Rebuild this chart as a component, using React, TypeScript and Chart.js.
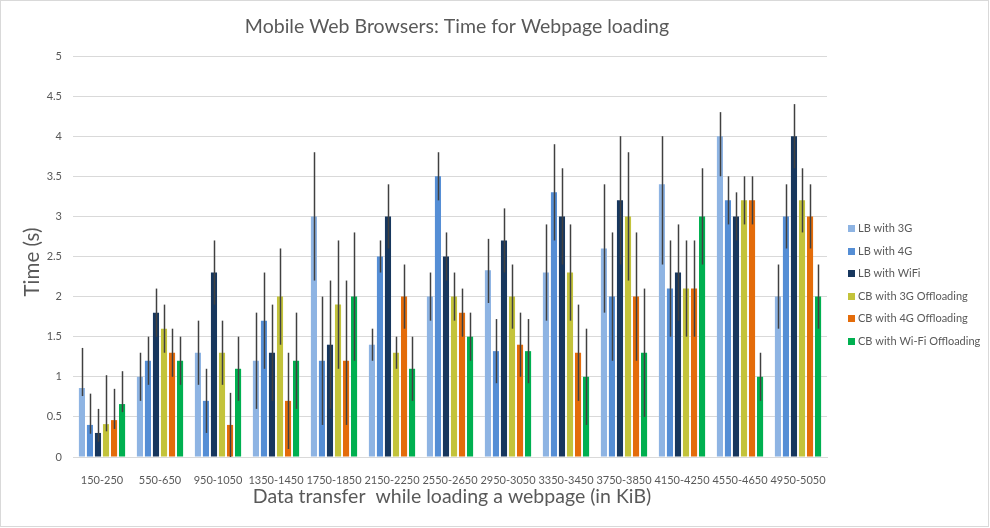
import React, { useEffect, useRef } from "react";
import { Chart, registerables } from "chart.js";

Chart.register(...registerables);

const categories = [
  "150-250", "550-650", "950-1050", "1350-1450", "1750-1850", "2150-2250", "2550-2650",
  "2950-3050", "3350-3450", "3750-3850", "4150-4250", "4550-4650", "4950-5050",
];

const seriesNames = [
  "LB with 3G", "LB with 4G", "LB with WiFi",
  "CB with 3G Offloading", "CB with 4G Offloading", "CB with Wi-Fi Offloading",
];

const seriesColors = ["#8EB4E3", "#558ED5", "#17375E", "#C3C33B", "#E46C0A", "#00B050"];

const lb3g = [0.86, 1.0, 1.3, 1.2, 3.0, 1.4, 2.0, 2.33, 2.3, 2.6, 3.4, 4.0, 2.0];
const lb4g = [0.4, 1.2, 0.7, 1.7, 1.2, 2.5, 3.5, 1.32, 3.3, 2.0, 2.1, 3.2, 3.0];
const lbWifi = [0.3, 1.8, 2.3, 1.3, 1.4, 3.0, 2.5, 2.7, 3.0, 3.2, 2.3, 3.0, 4.0];
const cb3g = [0.41, 1.6, 1.3, 2.0, 1.9, 1.3, 2.0, 2.0, 2.3, 3.0, 2.1, 3.2, 3.2];
const cb4g = [0.46, 1.3, 0.4, 0.7, 1.2, 2.0, 1.8, 1.4, 1.3, 2.0, 2.1, 3.2, 3.0];
const cbWifi = [0.66, 1.2, 1.1, 1.2, 2.0, 1.1, 1.5, 1.32, 1.0, 1.3, 3.0, 1.0, 2.0];

// error bar ends (lower, upper)
const lb3gLow = [0.76, 0.7, 0.9, 0.6, 2.2, 1.2, 1.7, 1.92, 1.7, 1.8, 2.4, 3.5, 1.6];
const lb3gHigh = [1.36, 1.3, 1.7, 1.8, 3.8, 1.6, 2.3, 2.72, 2.9, 3.4, 4.0, 4.3, 2.4];
const lb4gLow = [0.29, 0.9, 0.3, 1.1, 0.4, 2.3, 3.2, 0.92, 2.7, 1.2, 1.5, 2.9, 2.6];
const lb4gHigh = [0.79, 1.5, 1.1, 2.3, 2.0, 2.7, 3.8, 1.72, 3.9, 2.8, 2.7, 3.5, 3.4];
const lbWifiLow = [0.19, 1.5, 1.9, 0.7, 0.6, 2.6, 2.2, 2.3, 2.4, 2.4, 1.7, 2.7, 3.6];
const lbWifiHigh = [0.6, 2.1, 2.7, 1.9, 2.2, 3.4, 2.8, 3.1, 3.6, 4.0, 2.9, 3.3, 4.4];
const cb3gLow = [0.32, 1.3, 0.9, 1.4, 1.1, 1.1, 1.7, 1.6, 1.7, 2.2, 1.5, 2.9, 2.8];
const cb3gHigh = [1.02, 1.9, 1.7, 2.6, 2.7, 1.5, 2.3, 2.4, 2.9, 3.8, 2.7, 3.5, 3.6];
const cb4gLow = [0.35, 1.0, 0.0, 0.1, 0.4, 1.6, 1.5, 1.0, 0.7, 1.2, 1.5, 2.9, 2.6];
const cb4gHigh = [0.85, 1.6, 0.8, 1.3, 2.2, 2.4, 2.1, 1.8, 1.9, 2.8, 2.7, 3.5, 3.4];
const cbWifiLow = [0.56, 0.9, 0.7, 0.6, 1.2, 0.7, 1.2, 0.92, 0.4, 0.5, 2.4, 0.7, 1.6];
const cbWifiHigh = [1.07, 1.5, 1.5, 1.8, 2.8, 1.5, 1.8, 1.72, 1.6, 2.1, 3.6, 1.3, 2.4];

const seriesValues = [lb3g, lb4g, lbWifi, cb3g, cb4g, cbWifi];
const seriesLow = [lb3gLow, lb4gLow, lbWifiLow, cb3gLow, cb4gLow, cbWifiLow];
const seriesHigh = [lb3gHigh, lb4gHigh, lbWifiHigh, cb3gHigh, cb4gHigh, cbWifiHigh];

const yTicks = [0, 0.5, 1, 1.5, 2, 2.5, 3, 3.5, 4, 4.5, 5];

const titleText = "Mobile Web Browsers: Time for Webpage loading";
const xTitle = "Data transfer  while loading a webpage (in KiB)";
const yTitle = "Time (s)";

const FONT = "Lato, 'Open Sans', sans-serif";
const TEXT = "#595959";

const extrasPlugin = {
  id: "extras",
  afterDatasetsDraw(chart: any) {
    const ctx = chart.ctx;
    const y = chart.scales.y;
    ctx.save();
    ctx.strokeStyle = "#404040";
    ctx.lineWidth = 1.5;
    seriesValues.forEach((_, i) => {
      const meta = chart.getDatasetMeta(i);
      meta.data.forEach((bar: any, j: number) => {
        const x = Math.round(bar.x) + 0.5;
        ctx.beginPath();
        ctx.moveTo(x, y.getPixelForValue(seriesLow[i][j]));
        ctx.lineTo(x, y.getPixelForValue(seriesHigh[i][j]));
        ctx.stroke();
      });
    });
    ctx.restore();
  },
  afterDraw(chart: any) {
    const ctx = chart.ctx;
    ctx.save();
    // border
    ctx.strokeStyle = "#d9d9d9";
    ctx.lineWidth = 1;
    ctx.strokeRect(0.5, 0.5, 988, 526);
    ctx.fillStyle = TEXT;
    ctx.textAlign = "center";
    ctx.textBaseline = "middle";
    ctx.font = `400 19.5px ${FONT}`;
    ctx.fillText(titleText, 457, 27);
    ctx.font = `19.5px ${FONT}`;
    ctx.fillText(xTitle, 452, 497);
    ctx.save();
    ctx.translate(32, 262);
    ctx.rotate(-Math.PI / 2);
    ctx.font = `20.5px ${FONT}`;
    ctx.fillText(yTitle, 0, 0);
    ctx.restore();
    // legend
    ctx.font = `11px ${FONT}`;
    ctx.textAlign = "left";
    seriesNames.forEach((name, i) => {
      const cy = 228 + i * 22.6;
      ctx.fillStyle = seriesColors[i];
      ctx.fillRect(848, Math.round(cy) - 3, 7, 7);
      ctx.fillStyle = TEXT;
      ctx.fillText(name, 858, cy + 0.5);
    });
    ctx.restore();
  },
};

export default function App() {
  const ref = useRef<HTMLCanvasElement>(null);
  useEffect(() => {
    const chart = new Chart(ref.current as HTMLCanvasElement, {
      type: "bar",
      data: {
        labels: categories,
        datasets: seriesNames.map((name, i) => ({
          label: name,
          data: seriesValues[i],
          backgroundColor: seriesColors[i],
          borderWidth: 0,
          barPercentage: 0.76,
          categoryPercentage: 0.83,
        })),
      },
      options: {
        responsive: false,
        animation: false,
        devicePixelRatio: 1,
        layout: { padding: { left: 0, right: 163, top: 56, bottom: 41 } },
        plugins: {
          legend: { display: false },
          title: { display: false },
          tooltip: { enabled: false },
        },
        scales: {
          x: {
            grid: { display: false },
            border: { display: true, color: "#d9d9d9", width: 1 },
            ticks: { color: TEXT, font: { family: FONT, size: 11 }, padding: 9, maxRotation: 0, autoSkip: false },
            afterFit: (s: any) => { s.height = 30; },
          },
          y: {
            min: 0,
            max: 5,
            afterBuildTicks: (s: any) => { s.ticks = yTicks.map((v) => ({ value: v })); },
            grid: { color: "#d9d9d9", drawTicks: false },
            border: { display: false },
            ticks: { color: TEXT, font: { family: FONT, size: 11 }, padding: 11, callback: (v: any) => String(v) },
            afterFit: (s: any) => { s.width = 73; },
          },
        },
      },
      plugins: [extrasPlugin],
    });
    return () => chart.destroy();
  }, []);
  return (
    <div style={{ position: "fixed", left: 0, top: 0, width: 990, height: 528, background: "#fff" }}>
      <canvas ref={ref} width={990} height={528} />
    </div>
  );
}
